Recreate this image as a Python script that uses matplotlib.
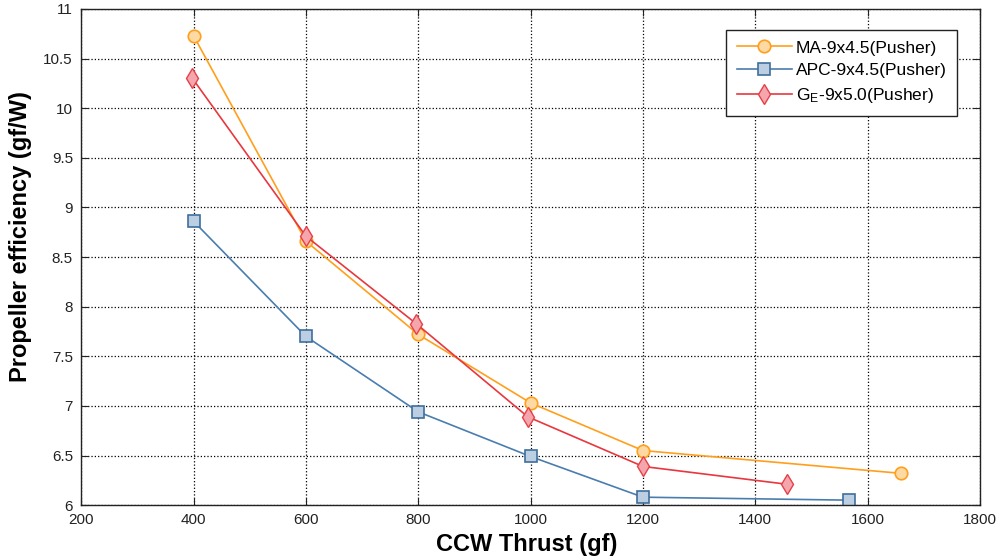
import numpy as np
import matplotlib.pyplot as plt

plt.rcParams['font.family'] = ['Liberation Sans', 'DejaVu Sans']
plt.rcParams['mathtext.fontset'] = 'custom'
plt.rcParams['mathtext.rm'] = 'Liberation Sans'
plt.rcParams['mathtext.default'] = 'regular'

# data
ma_x = [400, 600, 800, 1000, 1200, 1660]
ma_y = [10.73, 8.66, 7.72, 7.03, 6.55, 6.32]
apc_x = [400, 600, 800, 1000, 1200, 1567]
apc_y = [8.86, 7.70, 6.94, 6.49, 6.08, 6.05]
ge_x = [398, 600, 796, 995, 1200, 1457]
ge_y = [10.30, 8.71, 7.83, 6.89, 6.39, 6.21]

labels = ['MA-9x4.5(Pusher)', 'APC-9x4.5(Pusher)', 'G$_E$-9x5.0(Pusher)']
xticks = np.arange(200, 1801, 200)
yticks = np.arange(6, 11.01, 0.5)

fig = plt.figure(figsize=(10.03, 5.6), dpi=100)
ax = fig.add_axes([0.081, 0.098, 0.896, 0.886])

ax.plot(ma_x, ma_y, '-o', color='#FF9F1C', lw=1.2, ms=9,
        mfc='#FFD9A3', mec='#FF9F1C', mew=1.2, label=labels[0])
ax.plot(apc_x, apc_y, '-s', color='#4A7DAF', lw=1.2, ms=9,
        mfc='#BCCFE2', mec='#3F6E9C', mew=1.2, label=labels[1])
ax.plot(ge_x, ge_y, '-d', color='#E8373E', lw=1.2, ms=10,
        mfc='#F4A6AC', mec='#E5404A', mew=1.0, label=labels[2])

ax.set_xlim(200, 1800)
ax.set_ylim(6, 11)
ax.set_xticks(xticks)
ax.set_yticks(yticks)
ax.set_yticklabels(['%g' % v for v in yticks])
ax.tick_params(direction='in', top=True, right=True, length=5,
               labelsize=11, colors='#222222', pad=6)
ax.grid(True, color='black', linestyle=':', linewidth=0.9)
for s in ax.spines.values():
    s.set_linewidth(1.0)
    s.set_color('#222222')

ax.set_xlabel('CCW Thrust (gf)', fontsize=17, fontweight='bold')
ax.xaxis.set_label_coords(0.496, -0.056)
ax.set_ylabel('Propeller efficiency (gf/W)', fontsize=17, fontweight='bold')
ax.yaxis.set_label_coords(-0.055, 0.542)

leg = ax.legend(loc='upper right', fontsize=12.5, fancybox=False, framealpha=1,
                edgecolor='#222222', handlelength=3.2, handletextpad=0.2,
                borderpad=0.6, labelspacing=0.45, borderaxespad=0,
                bbox_to_anchor=(0.9744, 0.9577))
leg.get_frame().set_linewidth(1.0)

fig.savefig('out.png', dpi=100)
